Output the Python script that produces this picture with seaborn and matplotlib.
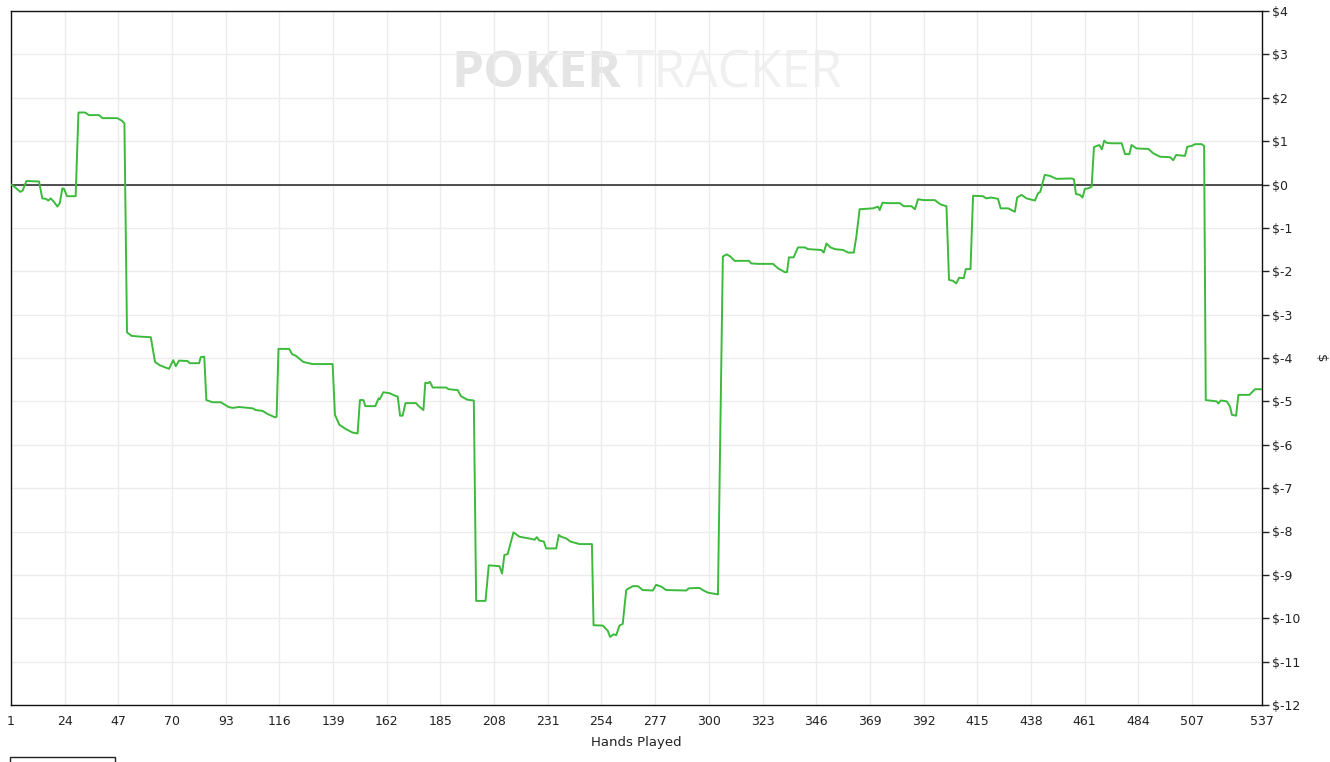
import matplotlib
matplotlib.use("Agg")
import matplotlib.pyplot as plt
from matplotlib.patches import Rectangle
import seaborn as sns
import pandas as pd

# running profit (hand number, dollars)
hands = [1.0, 2.0, 5.0, 6.0, 7.6, 13.0, 14.4, 15.9, 17.0, 18.0, 19.4, 20.9, 21.9, 23.0, 23.7,
         25.0, 28.7, 29.9, 32.7, 34.4, 38.7, 40.2, 46.6, 48.5, 49.6, 50.7, 52.7, 57.0, 60.9,
         62.7, 64.8, 68.7, 70.5, 71.6, 73.0, 76.6, 77.6, 81.6, 82.3, 83.8, 84.7, 87.3, 90.9,
         94.2, 95.9, 98.8, 104.5, 105.9, 108.8, 110.9, 114.2, 114.8, 115.6, 120.2, 121.4,
         123.1, 126.2, 130.2, 138.8, 139.8, 141.7, 144.5, 147.4, 149.5, 150.5, 152.0, 152.8,
         157.1, 158.5, 159.0, 160.5, 163.1, 166.0, 166.7, 167.7, 168.8, 170.0, 174.5, 175.7,
         177.7, 178.5, 179.7, 180.5, 181.7, 187.4, 188.5, 192.4, 193.8, 196.4, 199.3, 200.3,
         204.3, 205.7, 210.3, 211.4, 212.4, 213.8, 216.3, 218.8, 223.9, 225.3, 226.3, 227.4,
         229.3, 230.3, 234.6, 235.7, 236.7, 238.9, 240.6, 244.6, 249.9, 250.6, 254.6, 256.7,
         257.7, 259.2, 260.3, 261.7, 263.1, 264.6, 265.7, 267.5, 269.6, 271.7, 276.0, 277.4,
         279.6, 281.7, 290.3, 291.4, 296.0, 297.4, 299.6, 303.9, 306.0, 307.7, 309.2, 311.0,
         317.2, 318.2, 321.0, 327.5, 329.6, 332.5, 333.5, 334.3, 336.3, 338.2, 341.1, 342.5,
         348.2, 349.2, 350.4, 352.1, 354.0, 357.5, 359.7, 362.1, 363.2, 364.6, 370.3, 372.5,
         373.2, 374.4, 376.8, 381.8, 383.5, 386.8, 388.3, 389.6, 392.1, 396.8, 399.3, 401.8,
         402.9, 404.6, 406.0, 407.2, 409.2, 410.1, 412.1, 413.2, 417.5, 418.8, 421.0, 423.9,
         425.0, 428.3, 431.1, 432.1, 434.0, 436.1, 439.7, 441.1, 442.0, 443.9, 446.1, 448.9,
         455.4, 456.4, 457.3, 459.0, 460.1, 461.1, 462.5, 464.0, 465.0, 466.2, 467.3, 468.4,
         469.4, 470.5, 472.6, 476.9, 478.3, 480.2, 481.1, 483.3, 488.3, 490.4, 493.3, 497.6,
         499.0, 500.2, 504.0, 505.0, 506.9, 508.3, 511.1, 512.2, 512.9, 517.6, 518.3, 519.3,
         521.9, 523.3, 524.1, 525.9, 526.9, 531.6, 534.0, 537.0]
profit = [0.00, -0.03, -0.17, -0.14, 0.08, 0.07, -0.32, -0.33, -0.37, -0.32, -0.40, -0.51, -0.43,
          -0.09, -0.10, -0.27, -0.27, 1.66, 1.66, 1.60, 1.60, 1.53, 1.53, 1.47, 1.41, -3.41,
          -3.49, -3.51, -3.52, -4.09, -4.17, -4.25, -4.05, -4.19, -4.06, -4.07, -4.12, -4.12,
          -3.98, -3.97, -4.97, -5.02, -5.02, -5.13, -5.15, -5.13, -5.16, -5.20, -5.22, -5.29,
          -5.37, -5.35, -3.79, -3.79, -3.91, -3.95, -4.09, -4.14, -4.14, -5.31, -5.54, -5.64,
          -5.72, -5.74, -4.97, -4.97, -5.11, -5.11, -4.93, -4.95, -4.79, -4.81, -4.88, -4.89,
          -5.33, -5.33, -5.04, -5.04, -5.11, -5.20, -4.57, -4.58, -4.55, -4.68, -4.68, -4.72,
          -4.74, -4.88, -4.96, -4.98, -9.60, -9.60, -8.78, -8.80, -8.97, -8.54, -8.52, -8.02,
          -8.12, -8.17, -8.19, -8.13, -8.21, -8.23, -8.39, -8.39, -8.08, -8.12, -8.16, -8.23,
          -8.29, -8.29, -10.16, -10.17, -10.29, -10.43, -10.37, -10.39, -10.17, -10.13, -9.35,
          -9.31, -9.26, -9.26, -9.35, -9.36, -9.23, -9.27, -9.35, -9.36, -9.31, -9.30, -9.35,
          -9.41, -9.45, -1.66, -1.61, -1.66, -1.76, -1.76, -1.82, -1.83, -1.83, -1.93, -2.02,
          -2.02, -1.68, -1.68, -1.45, -1.45, -1.49, -1.51, -1.57, -1.36, -1.45, -1.49, -1.51,
          -1.57, -1.57, -1.20, -0.57, -0.55, -0.51, -0.59, -0.42, -0.43, -0.43, -0.50, -0.50,
          -0.57, -0.34, -0.36, -0.36, -0.46, -0.50, -2.20, -2.22, -2.28, -2.15, -2.16, -1.95,
          -1.95, -0.26, -0.27, -0.32, -0.30, -0.33, -0.55, -0.55, -0.63, -0.30, -0.24, -0.32,
          -0.37, -0.20, -0.17, 0.22, 0.20, 0.13, 0.14, 0.12, -0.22, -0.24, -0.30, -0.10, -0.09,
          -0.05, 0.86, 0.89, 0.91, 0.81, 1.01, 0.96, 0.95, 0.95, 0.70, 0.70, 0.91, 0.83, 0.82,
          0.72, 0.64, 0.63, 0.56, 0.68, 0.66, 0.87, 0.89, 0.93, 0.93, 0.89, -4.97, -5.00, -5.05,
          -4.98, -5.00, -5.12, -5.31, -5.33, -4.85, -4.85, -4.72, -4.72]

x_ticks = [1, 24, 47, 70, 93, 116, 139, 162, 185, 208, 231, 254, 277, 300, 323, 346, 369,
           392, 415, 438, 461, 484, 507, 537]
y_ticks = list(range(-12, 5))
y_labels = ["$" + str(v) for v in y_ticks]

W, H = 1330, 762

sns.set_style("white")
plt.rcParams['font.family'] = ['DejaVu Sans']

df = pd.DataFrame({"hand": hands, "profit": profit})

fig = plt.figure(figsize=(W / 100, H / 100), dpi=100)
# plot area in pixels: x 11..1262, y 11..705
ax = fig.add_axes([11 / W, 1 - 705 / H, (1262 - 11) / W, (705 - 11) / H])
ax.set_axisbelow(True)

sns.lineplot(data=df, x="hand", y="profit", ax=ax, color="#3cba3c", linewidth=1.4,
             estimator=None, sort=False, zorder=3)
ax.axhline(0, color="#333333", linewidth=1.2, zorder=2)

ax.set_xlim(1, 537)
ax.set_ylim(-12, 4)
ax.set_xticks(x_ticks)
ax.set_yticks(y_ticks)
ax.set_yticklabels(y_labels)
ax.grid(True, color="#ececec", linewidth=1)

ax.yaxis.tick_right()
ax.yaxis.set_label_position("right")
ax.tick_params(axis="both", direction="out", length=5, width=1, color="#222222",
               labelsize=9, labelcolor="#222222")
ax.tick_params(axis="x", pad=2)
ax.tick_params(axis="y", pad=2)
for s in ax.spines.values():
    s.set_color("#111111")
    s.set_linewidth(1)

ax.set_xlabel("Hands Played", fontsize=9.5, color="#222222", labelpad=6)
ax.set_ylabel("$", fontsize=9.5, color="#222222", rotation=270, va="center")
ax.yaxis.set_label_coords((1320 - 11) / (1262 - 11), 0.5)

# faint watermark behind the chart
ax.text(621 / W, 1 - 74 / H, "POKER", transform=fig.transFigure, ha="right", va="center",
        fontsize=37, fontweight="bold", color="#e4e4e4", family=["Open Sans", "DejaVu Sans"],
        zorder=0.4)
ax.text(625 / W, 1 - 74 / H, "TRACKER", transform=fig.transFigure, ha="left", va="center",
        fontsize=37, color="#f0f0f0", family=["Open Sans", "DejaVu Sans"], zorder=0.4)

# the top of a legend box that is cut off at the bottom edge
fig.add_artist(Rectangle((10 / W, -0.01), 105 / W, 0.01 + 5 / H, transform=fig.transFigure,
                         fill=False, edgecolor="#222222", linewidth=1))

fig.savefig("out.png", dpi=100)
